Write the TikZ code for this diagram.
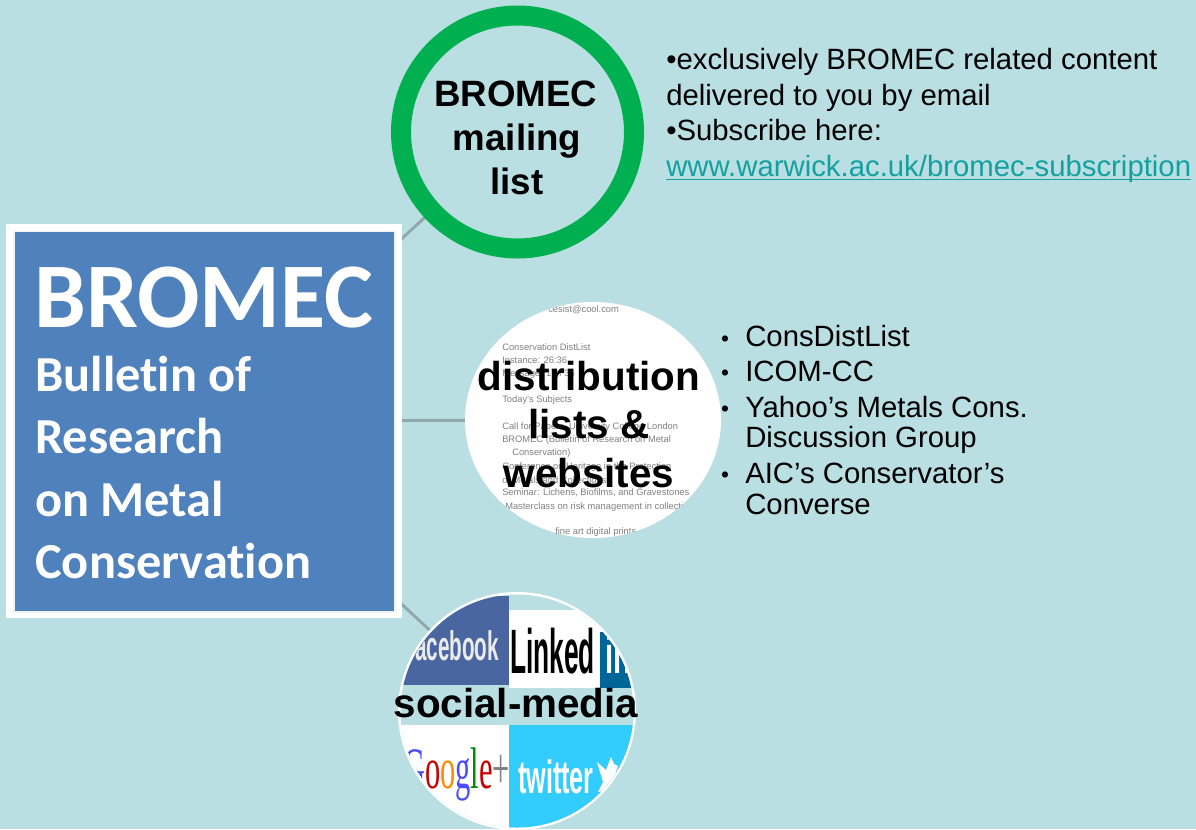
\documentclass[tikz,border=0pt]{standalone}
\usepackage{fontspec}
\setmainfont{Liberation Sans}
\newfontfamily\boxfont[Ligatures=NoCommon]{Carlito}
\newfontfamily\gfont{Liberation Serif}
\definecolor{bgc}{HTML}{B9DFE3}
\definecolor{boxblue}{HTML}{4F81BD}
\definecolor{ringgreen}{HTML}{00B050}
\definecolor{linkc}{HTML}{14A0A0}
\definecolor{conn}{HTML}{8FA9AB}
\definecolor{fbblue}{HTML}{4A66A0}
\definecolor{libl}{HTML}{006699}
\definecolor{twc}{HTML}{33CCFF}
\definecolor{faint}{HTML}{808080}
\newcommand{\fs}[2]{\fontsize{#1pt}{#2pt}\selectfont}
\tikzset{
 conline/.style={draw=conn,line width=2.2pt},
 ringtext/.style={font=\bfseries\fs{27.5}{32.5},text=black,inner sep=0pt,anchor=base},
 circtext/.style={font=\bfseries\fs{30.3}{34},text=black,inner sep=0pt,anchor=base},
 bodytext/.style={font=\fs{22}{26},anchor=base west,inner sep=0pt,text=black},
 bul/.style={font=\fs{17}{17},anchor=base,inner sep=0pt,text=black},
 faintline/.style={font=\fs{7}{8},text=faint,anchor=west,inner sep=0pt},
 titlebig/.style={text=white,inner sep=0pt,anchor=base west,font=\boxfont\bfseries\fs{69.3}{72}},
 titlesub/.style={text=white,inner sep=0pt,anchor=base west,font=\boxfont\bfseries\fs{37.8}{42}},
 logotext/.style={anchor=base west,inner sep=0pt,font=\bfseries},
}
\begin{document}
\begin{tikzpicture}[x=0.75pt,y=-0.75pt]
\useasboundingbox (0,0) rectangle (1196,829);
\fill[bgc] (0,0) rectangle (1196,829);
\node[minimum width=285pt,minimum height=283pt,inner sep=0pt] (box) at (204,421) {};
\node[circle,minimum size=177pt,inner sep=0pt] (mail) at (517.5,132) {};
\node[circle,minimum size=177pt,inner sep=0pt] (dist) at (593,420) {};
\node[circle,minimum size=177pt,inner sep=0pt] (soc) at (517,711) {};
\draw[conline] (box.center) -- (mail.center);
\draw[conline] (box.center) -- (dist.center);
\draw[conline] (box.center) -- (soc.center);
% title box
\fill[white] (6,224) rectangle (402,618);
\fill[white!90!boxblue] (13,231) rectangle (396,613);
\fill[boxblue] (15,232) rectangle (394,611);
\node[titlebig] at (34,327) {BROMEC};
\node[titlesub] at (35,391.5) {Bulletin of};
\node[titlesub] at (35,453.5) {Research};
\node[titlesub] at (35,516) {on Metal};
\node[titlesub] at (35,578) {Conservation};
% mailing list
\draw[ringgreen,fill=bgc,line width=15pt] (mail.center) circle (116.5);
\node[ringtext] at (516,106) {BROMEC};
\node[ringtext] at (517,150) {mailing};
\node[ringtext] at (517,194) {list};
\node[bodytext] at (666,69) {•exclusively BROMEC related content};
\node[bodytext] at (666,105) {delivered to you by email};
\node[bodytext] at (666,140) {•Subscribe here:};
\node[bodytext,text=linkc] (lnk) at (666,176) {www.warwick.ac.uk/bromec-subscription};
\draw[linkc,line width=1pt] ([yshift=-2.4pt]lnk.base west) -- ([yshift=-2.4pt]lnk.base east);
% distribution
\fill[white] (593,420) ellipse (128 and 118);
\begin{scope}
\clip (593,420) ellipse (128 and 118);
\node[faintline] at (548,310) {cesist@cool.com};
\node[faintline] at (502,347) {Conservation DistList};
\node[faintline] at (502,360) {Instance: 26:36};
\node[faintline] at (502,374) {Message: 1 of 36};
\node[faintline] at (502,400) {Today's Subjects};
\node[faintline] at (502,427) {Call for Papers, University College London};
\node[faintline] at (502,440) {BROMEC (Bulletin of Research on Metal};
\node[faintline] at (512,453) {Conservation)};
\node[faintline] at (502,467) {Conference on Heritage in the Protection};
\node[faintline] at (502,480) {of Metals and Collections};
\node[faintline] at (502,493) {Seminar: Lichens, Biofilms, and Gravestones};
\node[faintline] at (505,507) {Masterclass on risk management in collections};
\node[faintline] at (555,532) {fine art digital prints};
\end{scope}
\node[circtext] at (589,390) {distribution};
\node[circtext] at (589,438) {lists \&};
\node[circtext] at (589,487) {websites};
\foreach \y in {337,371,407,473}{
  \node[bul] at (725,\y+9) {•};
}
\node[bodytext] at (745,346) {ConsDistList};
\node[bodytext] at (745,381) {ICOM-CC};
\node[bodytext] at (745,417) {Yahoo’s Metals Cons.};
\node[bodytext] at (745,447) {Discussion Group};
\node[bodytext] at (745,483) {AIC’s Conservator’s};
\node[bodytext] at (745,514) {Converse};
% social media
\fill[white] (soc.center) circle (119);
\begin{scope}
\clip (soc.center) circle (116.5);
\fill[bgc] (390,590) rectangle (640,829);
\fill[fbblue] (390,596) rectangle (509,685);
\fill[white] (509,610) rectangle (640,688);
\fill[libl] (600,632) rectangle (640,688);
\fill[white] (390,725) rectangle (509,829);
\fill[twc] (509,725) rectangle (640,829);
\node[logotext,text=white!92!black,font=\bfseries\fs{31}{31},xscale=.5] at (408,660) {facebook};
\node[logotext,text=black,font=\bfseries\fs{47}{47},xscale=.42] at (510,673) {Linked};
\node[logotext,text=white,font=\bfseries\fs{40}{40},xscale=.55] at (605,673) {in};
\node[anchor=base west,inner sep=0pt,font=\gfont\fs{44}{44},xscale=.52] at (403,788) {\textcolor{blue!70!white}{G}\textcolor{red!80!black}{o}\textcolor{orange!90!yellow}{o}\textcolor{blue!70!white}{g}\textcolor{green!55!black}{l}\textcolor{red!80!black}{e}\textcolor{gray}{+}};
\node[logotext,text=white,font=\bfseries\fs{35}{35},xscale=.54] at (518,793) {twitter};
\fill[white] (597,762) -- (606,770) -- (611,757) -- (614,764) -- (618,766) -- (613,780) -- (605,791) -- (598,792) -- (603,782) -- cycle;
\end{scope}
\node[circtext] at (516,717) {social-media};
\end{tikzpicture}
\end{document}
